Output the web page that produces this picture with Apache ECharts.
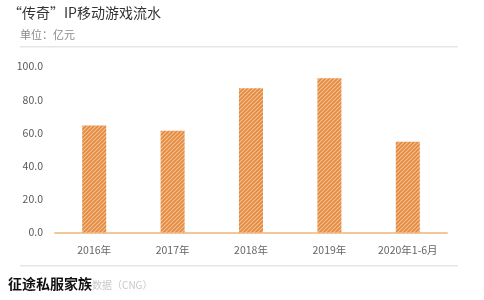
<!DOCTYPE html>
<html><head><meta charset="utf-8">
<script src="https://cdn.jsdelivr.net/npm/echarts@6/dist/echarts.min.js"></script>
<style>html,body{margin:0;padding:0;background:#fff}#c{width:484px;height:300px}</style>
</head><body><div id="c"></div>
<script>
const categories = ['2016年','2017年','2018年','2019年','2020年1-6月'];
const values = [64.5, 61.3, 86.9, 92.9, 54.7];
const yTicks = ['0.0','20.0','40.0','60.0','80.0','100.0'];

function makePattern(){
  const c = document.createElement('canvas');
  c.width = 4; c.height = 4;
  const g = c.getContext('2d');
  g.fillStyle = '#f5c290'; g.fillRect(0,0,4,4);
  g.strokeStyle = '#e3883e'; g.lineWidth = 1.6;
  g.beginPath();
  g.moveTo(-1,5); g.lineTo(5,-1);
  g.moveTo(-1,1); g.lineTo(1,-1);
  g.moveTo(3,5); g.lineTo(5,3);
  g.stroke();
  return c;
}
const chart = echarts.init(document.getElementById('c'), null, {renderer:'canvas'});
chart.setOption({
  animation:false,
  backgroundColor:'#fff',
  grid:{left:55,right:37,top:66.5,bottom:67.5},
  graphic:[
    {type:'text',left:8,top:6,style:{text:'“传奇”IP移动游戏流水',fontSize:14,fill:'#333',fontFamily:'Noto Sans CJK SC'}},
    {type:'text',left:20,top:29,style:{text:'单位：亿元',fontSize:11,fill:'#8a8a8a',fontFamily:'Noto Sans CJK SC'}},
    {type:'rect',shape:{x:20,y:46,width:438,height:1.5},style:{fill:'#e6e6e6'}},
    {type:'rect',shape:{x:20,y:265,width:438,height:1.5},style:{fill:'#e6e6e6'}},
    {type:'text',left:8,top:277,style:{text:'征途私服家族',fontSize:14,fontWeight:'bold',fill:'#111',fontFamily:'Noto Sans CJK SC'}},
    {type:'text',left:92,top:280,style:{text:'数据（CNG）',fontSize:10,fill:'#c8c8c8',fontFamily:'Noto Sans CJK SC'}}
  ],
  xAxis:{type:'category',data:categories,
    axisLine:{lineStyle:{color:'#f2c79a',width:2}},
    axisTick:{show:false},
    axisLabel:{color:'#666',fontSize:10.5,margin:12,fontFamily:'Noto Sans CJK SC'}},
  yAxis:{type:'value',min:0,max:100,interval:20,
    axisLine:{show:false},axisTick:{show:false},splitLine:{show:false},
    axisLabel:{color:'#595959',fontSize:10.5,margin:12,fontFamily:'Noto Sans CJK SC',
      formatter:function(v){return yTicks[Math.round(v/20)];}}},
  series:[{type:'bar',data:values,barWidth:24,
    itemStyle:{color:{image:makePattern(),repeat:'repeat'}}}]
});
</script></body></html>
